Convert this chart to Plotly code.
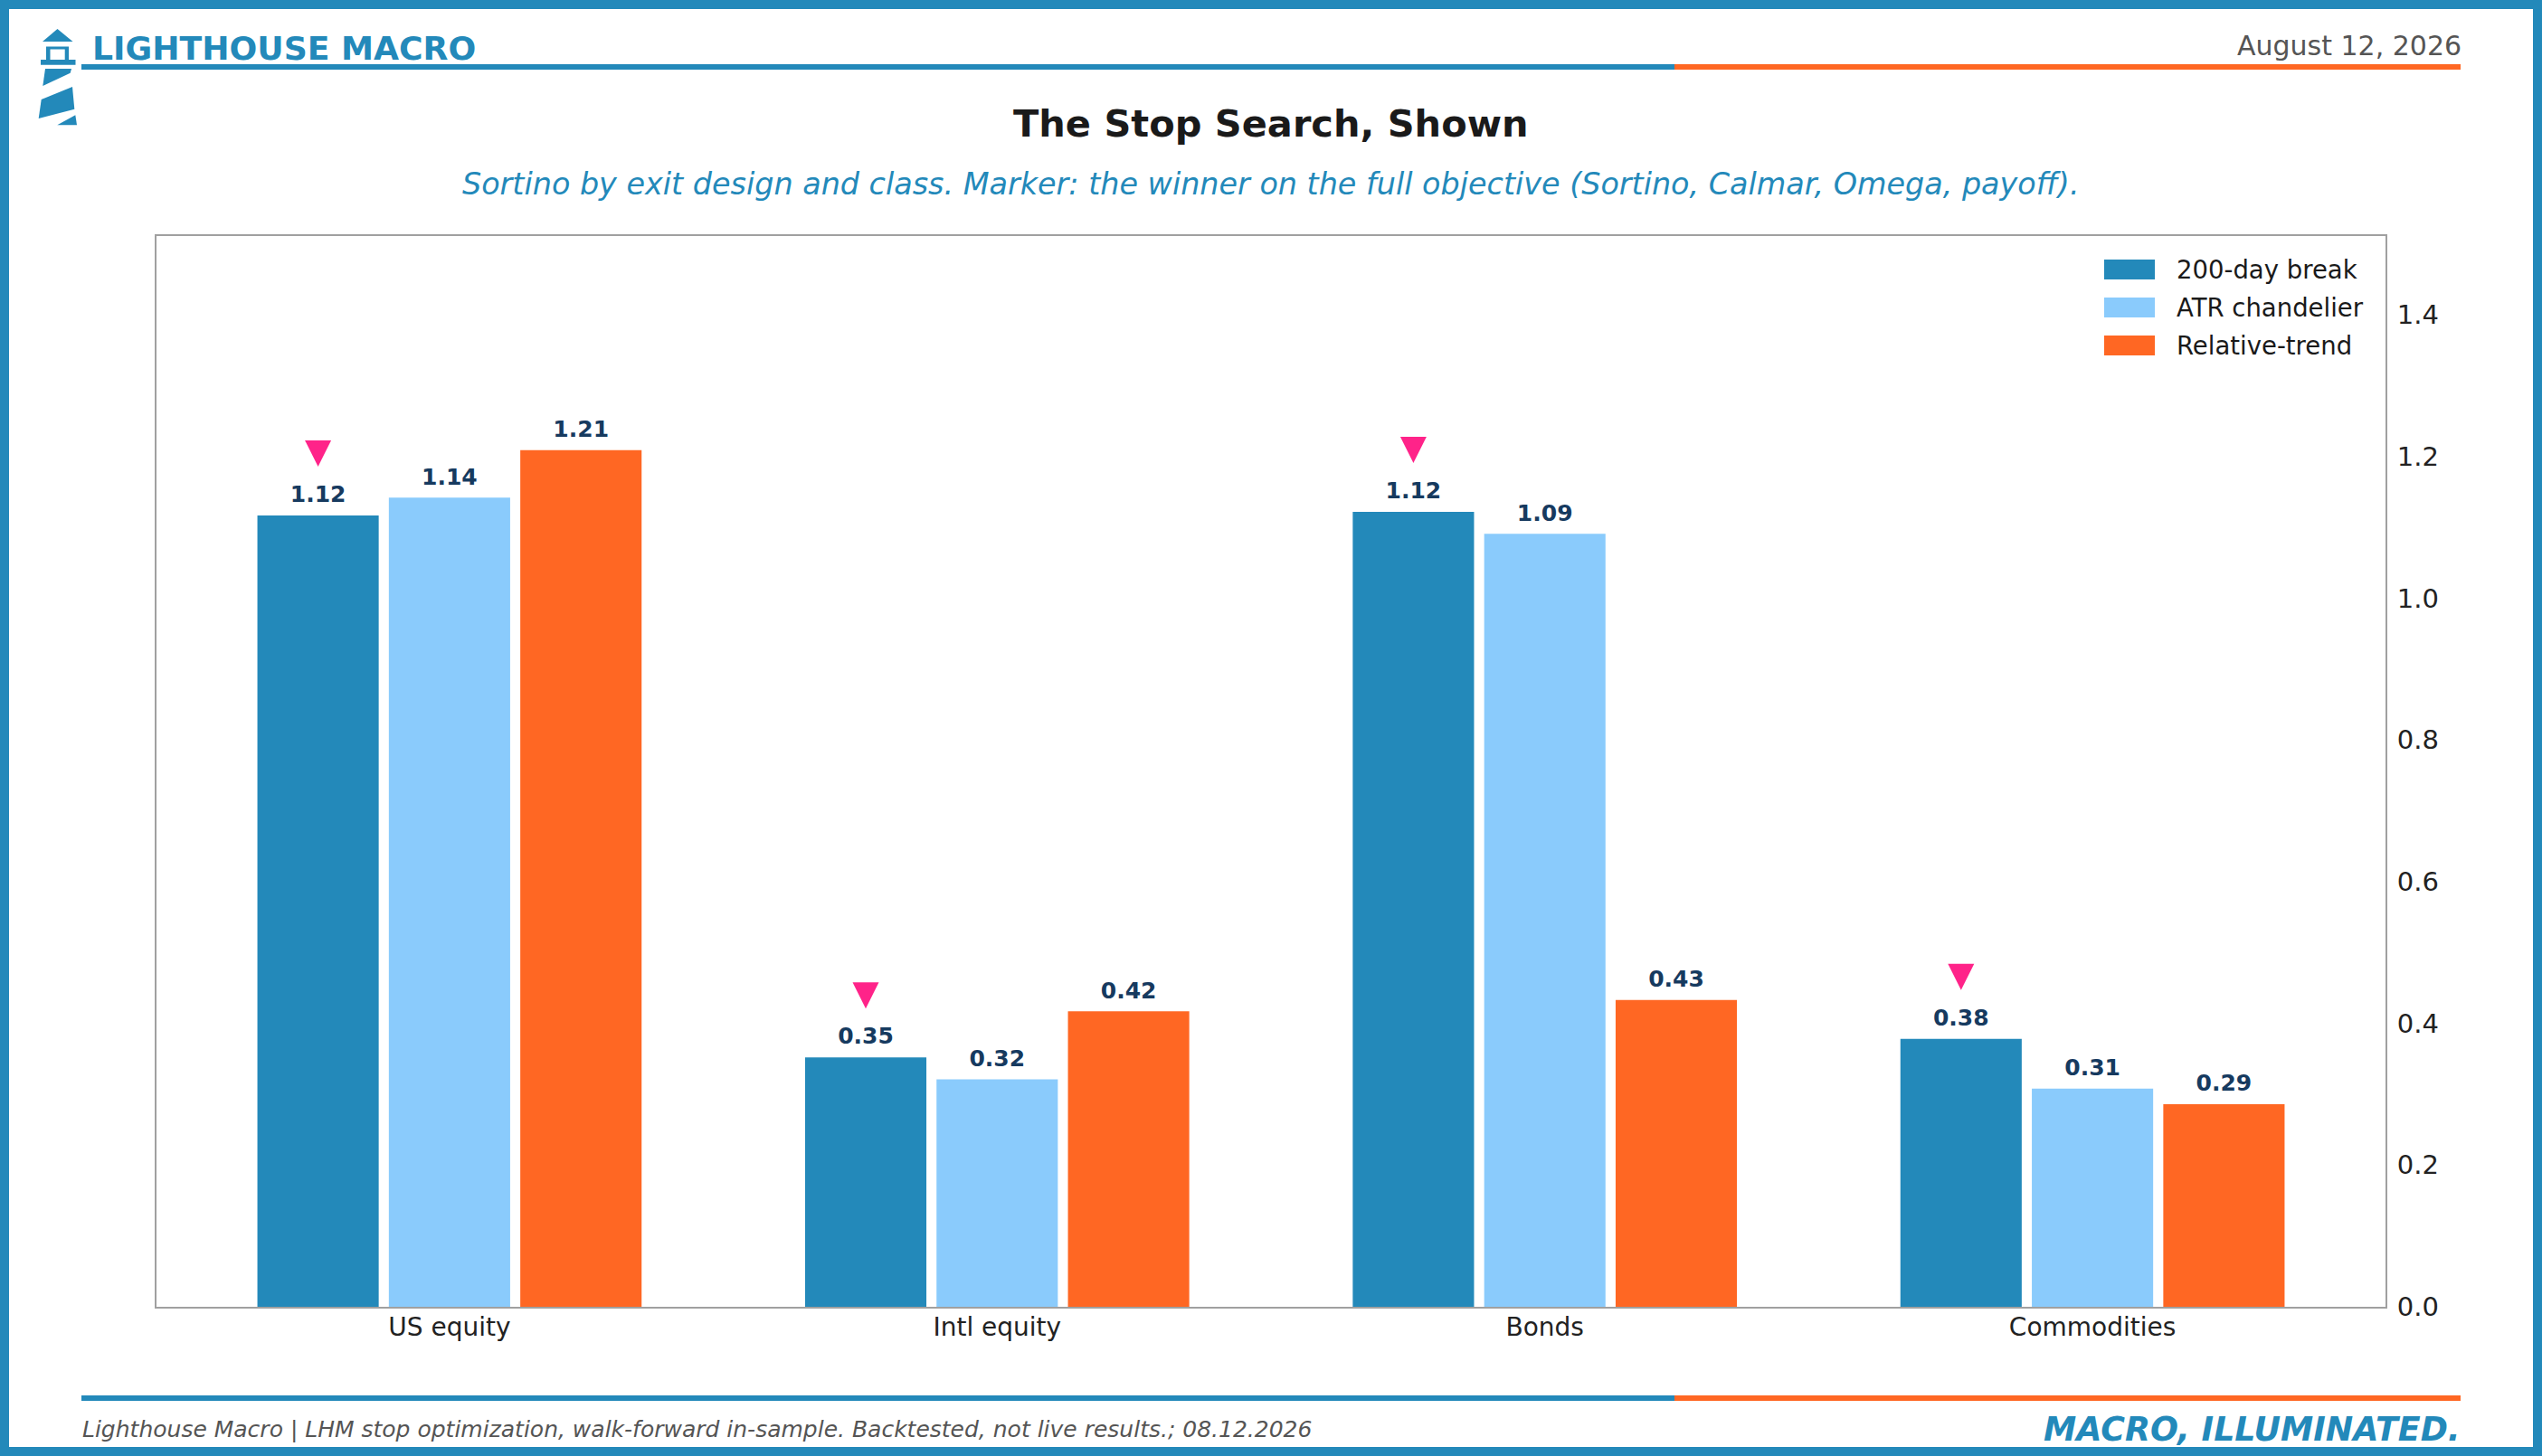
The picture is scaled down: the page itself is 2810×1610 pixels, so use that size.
import plotly.graph_objects as go

# ---------------- data ----------------
categories = ["US equity", "Intl equity", "Bonds", "Commodities"]
series_names = ["200-day break", "ATR chandelier", "Relative-trend"]
day200_break = [1.117, 0.352, 1.122, 0.378]
atr_chandelier = [1.142, 0.321, 1.091, 0.308]
relative_trend = [1.209, 0.417, 0.433, 0.286]
winners = ["200-day break", "200-day break", "200-day break", "200-day break"]
y_ticks = [0.0, 0.2, 0.4, 0.6, 0.8, 1.0, 1.2, 1.4]

title_text = "The Stop Search, Shown"
subtitle_text = ("Sortino by exit design and class. Marker: the winner on the full "
                 "objective (Sortino, Calmar, Omega, payoff).")
brand_text = "LIGHTHOUSE MACRO"
date_text = "August 12, 2026"
footer_text = ("Lighthouse Macro | LHM stop optimization, walk-forward in-sample. "
               "Backtested, not live results.; 08.12.2026")
tagline_text = "MACRO, ILLUMINATED."

# ---------------- style ----------------
BLUE = "#2389BA"
LIGHT = "#8ACBFC"
ORANGE = "#FF6723"
PINK = "#FF2389"
NAVY = "#163A5F"
FONT = "DejaVu Sans"
colors = [BLUE, LIGHT, ORANGE]
series_values = [day200_break, atr_chandelier, relative_trend]

W, H = 2810, 1610
ML, MR, MT, MB = 173, 173, 261, 165
PW, PH = W - ML - MR, H - MT - MB


def px(x):
    return (x - ML) / PW


def py(y):
    return (H - MB - y) / PH


SLOT = 0.24
BAR_W = 0.2215
y_max = max(max(v) for v in series_values) * 1.25
unit_px = PH / y_max
LABEL_PAD = 21 / unit_px
MARK_PAD = 54 / unit_px

fig = go.Figure()

for j, (name, vals, col) in enumerate(zip(series_names, series_values, colors)):
    xs = [i + (j - 1) * SLOT for i in range(len(categories))]
    fig.add_trace(go.Bar(x=xs, y=vals, width=BAR_W, name=name,
                         marker=dict(color=col, line=dict(width=0)),
                         showlegend=False))
    fig.add_trace(go.Scatter(x=xs, y=[v + LABEL_PAD for v in vals], mode="text",
                             text=[f"{v:.2f}" for v in vals],
                             textposition="middle center",
                             textfont=dict(family=FONT, size=25, color=NAVY,
                                           weight="bold"),
                             showlegend=False, cliponaxis=False, hoverinfo="skip"))

wx, wy = [], []
for i, w in enumerate(winners):
    j = series_names.index(w)
    wx.append(i + (j - 1) * SLOT)
    wy.append(series_values[j][i] + MARK_PAD)
fig.add_trace(go.Scatter(x=wx, y=wy, mode="markers",
                         marker=dict(symbol="arrow-down", size=29, color=PINK,
                                     line=dict(width=0)),
                         showlegend=False, cliponaxis=False, name="Winner"))

shapes = []
annotations = []

# outer border
shapes.append(dict(type="rect", xref="paper", yref="paper",
                   x0=px(5), x1=px(W - 5), y0=py(5), y1=py(H - 5),
                   line=dict(color=BLUE, width=10), fillcolor="rgba(0,0,0,0)",
                   layer="above"))

# header / footer rules
for yy in (74, 1546):
    shapes.append(dict(type="line", xref="paper", yref="paper",
                       x0=px(90), x1=px(1851), y0=py(yy), y1=py(yy),
                       line=dict(color=BLUE, width=6)))
    shapes.append(dict(type="line", xref="paper", yref="paper",
                       x0=px(1851), x1=px(2720), y0=py(yy), y1=py(yy),
                       line=dict(color=ORANGE, width=6)))


def poly(points):
    d = "M " + " L ".join(f"{px(a):.5f},{py(b):.5f}" for a, b in points) + " Z"
    return dict(type="path", xref="paper", yref="paper", path=d,
                fillcolor=BLUE, line=dict(width=0))


# lighthouse logo
shapes.append(poly([(47, 46), (63.5, 32), (80.5, 46)]))
shapes.append(poly([(51, 51.5), (76, 51.5), (76, 66), (71.7, 66), (71.7, 54.5),
                    (55.5, 54.5), (55.5, 66), (51, 66)]))
shapes.append(poly([(45, 66), (83.5, 66), (83.5, 71.7), (45, 71.7)]))
shapes.append(poly([(50, 76), (79, 76), (77.7, 80.7), (47.3, 95)]))
shapes.append(poly([(45.7, 110), (80, 96), (82.3, 120.7), (42.7, 131)]))
shapes.append(poly([(63.3, 138.3), (83.3, 127.3), (85, 138.3)]))

# custom legend
for j, (name, col) in enumerate(zip(series_names, colors)):
    cy = 298 + 42 * j
    shapes.append(dict(type="rect", xref="paper", yref="paper",
                       x0=px(2326), x1=px(2382), y0=py(cy - 11), y1=py(cy + 11),
                       fillcolor=col, line=dict(width=0)))
    annotations.append(dict(xref="paper", yref="paper", x=px(2404), y=py(cy),
                            xanchor="left", yanchor="middle", showarrow=False,
                            text=name, font=dict(family=FONT, size=27.5, color="#1a1a1a")))


def txt(text, x, y, size, color, xanchor="left", bold=False, italic=False):
    annotations.append(dict(xref="paper", yref="paper", x=px(x), y=py(y),
                            xanchor=xanchor, yanchor="middle", showarrow=False,
                            text=text,
                            font=dict(family=FONT, size=size, color=color,
                                      weight="bold" if bold else "normal",
                                      style="italic" if italic else "normal")))


txt(brand_text, 100, 53, 36.2, BLUE, bold=True)
txt(date_text, 2723, 51, 30, "#555555", xanchor="right")
txt(title_text, 1405, 137, 41.5, "#1a1a1a", xanchor="center", bold=True)
txt(subtitle_text, 1405, 203, 33.4, BLUE, xanchor="center", italic=True)
txt(footer_text, 89, 1580, 25, "#555555", italic=True)
txt(tagline_text, 2722, 1580, 36.4, BLUE, xanchor="right", bold=True, italic=True)

fig.update_layout(
    width=W, height=H,
    margin=dict(l=ML, r=MR, t=MT, b=MB, pad=0),
    paper_bgcolor="white", plot_bgcolor="white",
    barmode="overlay", showlegend=False,
    shapes=shapes, annotations=annotations,
    font=dict(family=FONT, color="#222222"),
    xaxis=dict(range=[-0.535, len(categories) - 1 + 0.535],
               tickmode="array", tickvals=list(range(len(categories))),
               ticktext=categories, showgrid=False, zeroline=False,
               showline=True, mirror=True, linecolor="#a0a0a0", linewidth=2,
               ticks="", ticklabelstandoff=-4,
               tickfont=dict(family=FONT, size=28, color="#222222")),
    yaxis=dict(range=[0, y_max], side="right", tickmode="array",
               tickvals=y_ticks, ticktext=[f"{t:.1f}" for t in y_ticks],
               showgrid=False, zeroline=False,
               showline=True, mirror=True, linecolor="#a0a0a0", linewidth=2,
               ticks="", ticklabelstandoff=5,
               tickfont=dict(family=FONT, size=29, color="#222222")),
)

fig.write_html("out.html",
               config={"displayModeBar": False},
               post_script="document.body.style.margin='0';"
                           "document.body.style.overflow='hidden';")
